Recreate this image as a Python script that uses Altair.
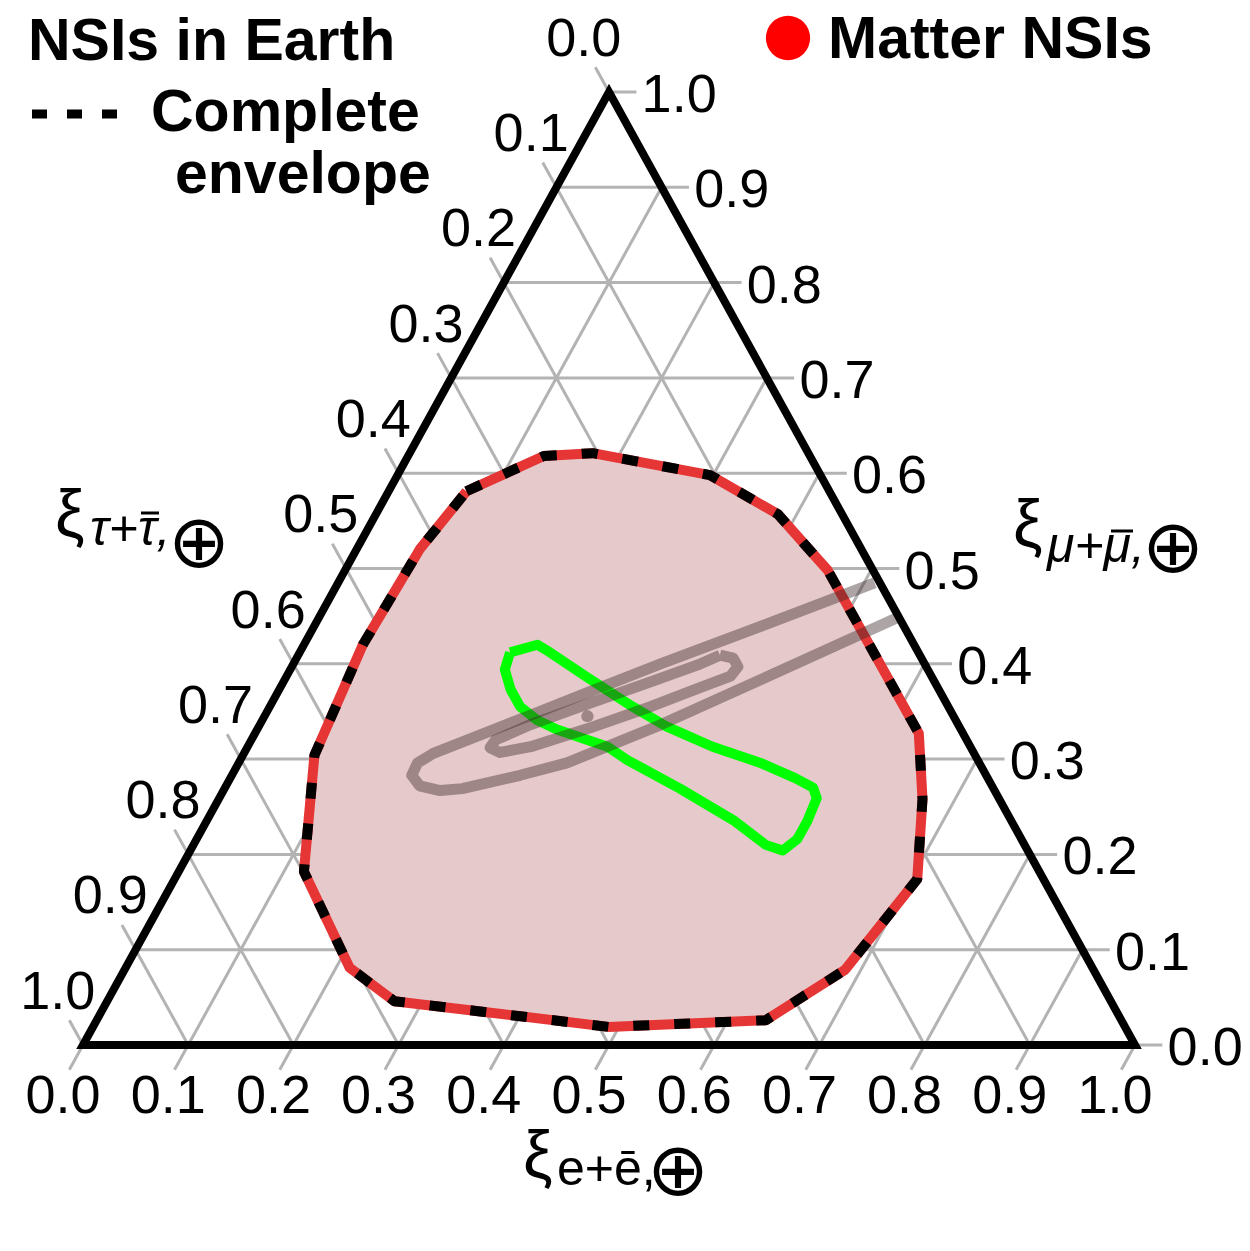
import altair as alt
import pandas as pd

# ---------------- data (ternary fractions: xi_e, xi_mu ; xi_tau = 1 - xi_e - xi_mu) -------------
tick_values = [0.0, 0.1, 0.2, 0.3, 0.4, 0.5, 0.6, 0.7, 0.8, 0.9, 1.0]
tick_labels = ["0.0", "0.1", "0.2", "0.3", "0.4", "0.5", "0.6", "0.7", "0.8", "0.9", "1.0"]

# Complete envelope (matter NSIs)
env_e = [0.074, 0.129, 0.174, 0.297, 0.382, 0.459, 0.631, 0.669, 0.706, 0.685,
         0.636, 0.490, 0.273, 0.213, 0.119, 0.068, 0.056, 0.060]
env_mu = [0.581, 0.618, 0.621, 0.598, 0.557, 0.498, 0.327, 0.258, 0.174, 0.079,
          0.026, 0.019, 0.046, 0.081, 0.182, 0.304, 0.420, 0.520]

# Green contour
green_e = [0.200, 0.222, 0.234, 0.286, 0.345, 0.388, 0.442, 0.496, 0.537, 0.559, 0.568, 0.571,
           0.571, 0.563, 0.544, 0.500, 0.433, 0.368, 0.342, 0.285, 0.261, 0.238, 0.220, 0.204]
green_mu = [0.412, 0.420, 0.414, 0.386, 0.355, 0.334, 0.313, 0.296, 0.280, 0.270, 0.259, 0.235,
            0.216, 0.204, 0.210, 0.236, 0.269, 0.299, 0.313, 0.331, 0.341, 0.355, 0.373, 0.394]

# Grey contours
gray_outer_e = [0.510, 0.424, 0.349, 0.295, 0.254, 0.207, 0.180, 0.170, 0.171, 0.184, 0.206,
                0.226, 0.274, 0.312, 0.381, 0.452, 0.551]
gray_outer_mu = [0.485, 0.439, 0.400, 0.370, 0.347, 0.321, 0.306, 0.296, 0.283, 0.272, 0.267,
                 0.269, 0.283, 0.296, 0.336, 0.383, 0.449]
gray_inner_e = [0.401, 0.415, 0.424, 0.422, 0.399, 0.362, 0.314, 0.269, 0.243, 0.231, 0.232,
                0.257, 0.301, 0.349, 0.387]
gray_inner_mu = [0.409, 0.406, 0.397, 0.387, 0.375, 0.355, 0.332, 0.313, 0.307, 0.312, 0.320,
                 0.336, 0.358, 0.381, 0.400]
dot_e = [0.307]
dot_mu = [0.345]

# ---------------- helpers ----------------
def xy(e, mu):
    return e + mu / 2.0, mu


def path_df(es, mus, close=False):
    es = list(es)
    mus = list(mus)
    if close:
        es = es + [es[0]]
        mus = mus + [mus[0]]
    rows = []
    for i, (e, m) in enumerate(zip(es, mus)):
        x, y = xy(e, m)
        rows.append({"x": x, "y": y, "idx": i})
    return pd.DataFrame(rows)


W, H = 1234, 1235
xs = alt.Scale(domain=[-0.071293, 1.101711], range=[0, W], nice=False, zero=False)
ys = alt.Scale(domain=[-0.207765, 1.088143], range=[H, 0], nice=False, zero=False)

T = 0.026  # tick length (in height units)
TX = 0.026  # horizontal tick length

# grid lines + ticks
seg = []
for v in tick_values:
    seg.append({"x": v / 2, "y": v, "x2": 1 - v / 2 + TX, "y2": v})
    seg.append({"x": v - 0.5 * T, "y": -T, "x2": (1 + v) / 2, "y2": 1 - v})
    seg.append({"x": (1 - v) / 2 - 0.5 * T, "y": 1 - v + T, "x2": 1 - v, "y2": 0})
grid_df = pd.DataFrame(seg)

lab = []
for v, s in zip(tick_values, tick_labels):
    lab.append({"x": v - 0.019, "y": -0.0714, "t": s, "side": "b"})
    lab.append({"x": (1 - v / 2) + 0.031, "y": v - 0.021, "t": s, "side": "r"})
    lab.append({"x": (1 - v) / 2 - 0.024, "y": 1 - v + 0.038, "t": s, "side": "l"})
lab_df = pd.DataFrame(lab)

X = lambda f="x": alt.X(f"{f}:Q", scale=xs, axis=None)
Y = lambda f="y": alt.Y(f"{f}:Q", scale=ys, axis=None)

grid = alt.Chart(grid_df).mark_rule(color="#b3b3b3", strokeWidth=3).encode(
    x=X(), y=Y(), x2="x2:Q", y2="y2:Q")

env_df = path_df(env_e, env_mu, close=True)
env_fill = alt.Chart(env_df).mark_line(fill="#e6cacb", stroke="#e6cacb", strokeWidth=1).encode(
    x=X(), y=Y(), order="idx:Q")
env_red = alt.Chart(env_df).mark_line(color="#e63535", strokeWidth=10, strokeJoin="round").encode(
    x=X(), y=Y(), order="idx:Q")
env_black = alt.Chart(env_df).mark_line(color="black", strokeWidth=10, strokeDash=[16, 25],
                                        strokeJoin="round").encode(x=X(), y=Y(), order="idx:Q")

green = alt.Chart(path_df(green_e, green_mu, close=True)).mark_line(
    color="#00ff00", strokeWidth=10, strokeJoin="round").encode(x=X(), y=Y(), order="idx:Q")

gray_col = "#3c2828"
gray_op = 0.42
gray_outer = alt.Chart(path_df(gray_outer_e, gray_outer_mu)).mark_line(
    color=gray_col, opacity=gray_op, strokeWidth=11, strokeJoin="round").encode(
    x=X(), y=Y(), order="idx:Q")
gray_inner = alt.Chart(path_df(gray_inner_e, gray_inner_mu, close=True)).mark_line(
    color=gray_col, opacity=gray_op, strokeWidth=11, strokeJoin="round").encode(
    x=X(), y=Y(), order="idx:Q")
dot = alt.Chart(path_df(dot_e, dot_mu)).mark_point(
    shape="circle", filled=True, color=gray_col, opacity=gray_op, size=150).encode(x=X(), y=Y())

tri = alt.Chart(path_df([0, 1, 0, 0, 1], [0, 0, 1, 0, 0])).mark_line(
    color="black", strokeWidth=8, strokeJoin="miter").encode(x=X(), y=Y(), order="idx:Q")

FONT = "Liberation Sans"
lab_b = alt.Chart(lab_df[lab_df.side == "b"]).mark_text(
    align="center", baseline="alphabetic", fontSize=54, font=FONT, color="black").encode(
    x=X(), y=Y(), text="t:N")
lab_r = alt.Chart(lab_df[lab_df.side == "r"]).mark_text(
    align="left", baseline="alphabetic", fontSize=54, font=FONT, color="black").encode(
    x=X(), y=Y(), text="t:N")
lab_l = alt.Chart(lab_df[lab_df.side == "l"]).mark_text(
    align="center", baseline="alphabetic", fontSize=54, font=FONT, color="black").encode(
    x=X(), y=Y(), text="t:N")

one = pd.DataFrame({"a": [0]})


def txt(s, x, y, size, bold=False, italic=False, align="left", font=FONT):
    kw = dict(text=s, align=align, baseline="alphabetic", fontSize=size, font=font, color="black")
    if bold:
        kw["fontWeight"] = "bold"
    if italic:
        kw["fontStyle"] = "italic"
    return alt.Chart(one).mark_text(**kw).encode(x=alt.value(x), y=alt.value(y))


def bar(x1, x2, y, w=3):
    return alt.Chart(one).mark_rule(color="black", strokeWidth=w).encode(
        x=alt.value(x1), x2=alt.value(x2), y=alt.value(y))


XI = 66
SUB = 50
OP = 74
titles = [
    # bottom: xi_{e+ebar, (+)}
    txt("ξ", 515, 1169, XI),
    txt("e+ē,", 549, 1177, SUB),
    txt("⊕", 670, 1187, OP, align="center", font="DejaVu Sans"),
    # right: xi_{mu+mubar, (+)}
    txt("ξ", 1005, 538, XI),
    txt("μ+μ,", 1039, 554, SUB, italic=True),
    txt("⊕", 1165, 564, OP, align="center", font="DejaVu Sans"),
    # left: xi_{tau+taubar, (+)}
    txt("ξ", 47, 528, XI),
    txt("τ+τ,", 82, 537, SUB, italic=True),
    txt("⊕", 191, 559, OP, align="center", font="DejaVu Sans"),
    # legend / heading texts
    txt("NSIs in Earth", 20, 52, 59, bold=True),
    txt("Matter NSIs", 820, 50, 59, bold=True),
    txt("Complete", 143, 123, 59, bold=True),
    txt("envelope", 167, 185, 59, bold=True),
]
macrons = [bar(1103, 1125, 523), bar(133, 151, 505)]

legend_dot = alt.Chart(one).mark_point(shape="circle", filled=True, color="#ff0000", opacity=1,
                                       size=1960).encode(x=alt.value(780), y=alt.value(30))
legend_dash = alt.Chart(one).mark_rule(color="black", strokeWidth=9, strokeDash=[15, 20]).encode(
    x=alt.value(24), x2=alt.value(109), y=alt.value(106))

chart = alt.layer(
    grid, env_fill, env_red, env_black, green, gray_outer, gray_inner, dot, tri,
    lab_b, lab_r, lab_l, *titles, *macrons, legend_dot, legend_dash
).properties(width=W, height=H, autosize="none", padding=0).configure_view(stroke=None)

chart.save("out.html", embed_options={"renderer": "svg", "actions": False})
